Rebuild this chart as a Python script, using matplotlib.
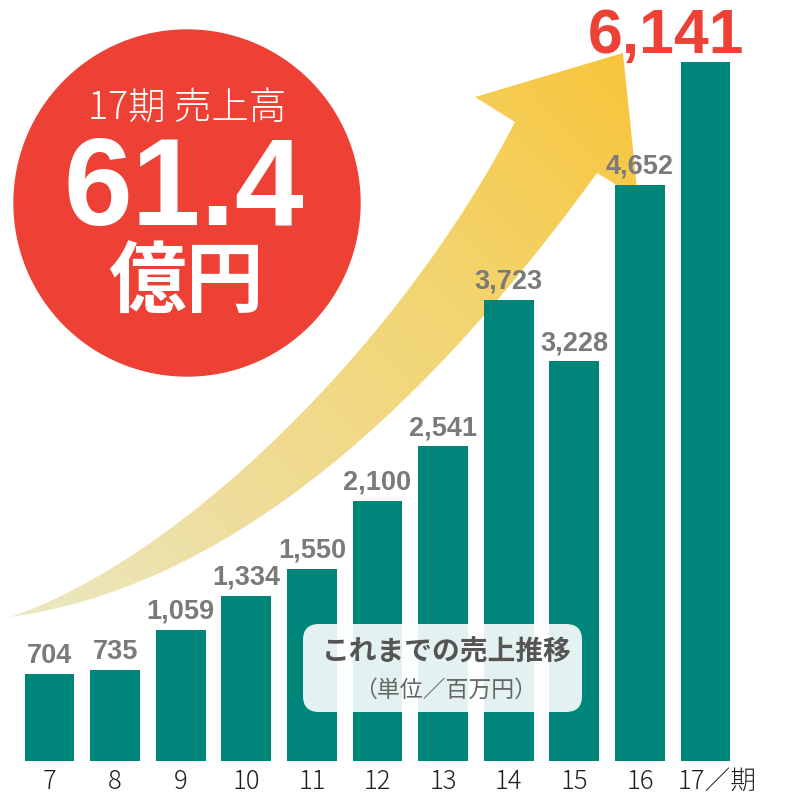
import numpy as np
import matplotlib
matplotlib.use("Agg")
import matplotlib.pyplot as plt
from matplotlib.path import Path
from matplotlib.patches import PathPatch, Circle, FancyBboxPatch
from matplotlib.colors import LinearSegmentedColormap

plt.rcParams['font.family'] = ['Noto Sans CJK JP', 'DejaVu Sans']

# ---- data ----
periods = ["7", "8", "9", "10", "11", "12", "13", "14", "15", "16", "17"]
sales = [704, 735, 1059, 1334, 1550, 2100, 2541, 3723, 3228, 4652, 6141]   # 百万円
period_unit = "／期"

badge_title = "17期 売上高"
badge_value = "61.4"
badge_unit = "億円"
note_title = "これまでの売上推移"
note_unit = "（単位／百万円）"

TEAL = "#00857a"
RED = "#ee4136"
GREY = "#7a7a7a"

W, H = 803, 794
base_px, top_px = 760.7, 62.0      # baseline and clipped top of the plot area
px_per_bar = 65.6
first_center = 49.5
px_per_unit = 0.1238

fig = plt.figure(figsize=(W / 100, H / 100), dpi=100)

#----------------------------------------------------------------------------------------------------------#
# background: growth arrow with gradient

bg = fig.add_axes([0, 0, 1, 1], zorder=0)
bg.set_xlim(0, W); bg.set_ylim(H, 0); bg.axis("off")

verts = [(10, 617),
         (180, 560), (400, 345), (515, 122),     # upper edge
         (475, 97), (623, 53), (638, 198), (597, 173),
         (490, 320), (280, 580), (10, 617),      # lower edge
         (10, 617)]
codes = [Path.MOVETO,
         Path.CURVE4, Path.CURVE4, Path.CURVE4,
         Path.LINETO, Path.LINETO, Path.LINETO, Path.LINETO,
         Path.CURVE4, Path.CURVE4, Path.CURVE4,
         Path.CLOSEPOLY]
arrow = PathPatch(Path(verts, codes), facecolor="none", edgecolor="none")
bg.add_patch(arrow)

cmap = LinearSegmentedColormap.from_list(
    "arrow", ["#ebe8c4", "#efdc95", "#f3d46e", "#f8c53c"])
gx, gy = np.meshgrid(np.arange(W), np.arange(H))
d = np.array([613.0, -564.0])
t = ((gx - 10) * d[0] + (gy - 617) * d[1]) / (d @ d)
img = bg.imshow(np.clip(t, 0, 1), cmap=cmap, extent=(0, W, H, 0), origin="upper",
                vmin=0, vmax=1, interpolation="bilinear")
img.set_clip_path(arrow)

#----------------------------------------------------------------------------------------------------------#
# bars

ax = fig.add_axes([0, (H - base_px) / H, 1, (base_px - top_px) / H], zorder=1)
ax.patch.set_alpha(0)
ax.set_xlim(-first_center / px_per_bar, (W - first_center) / px_per_bar)
ytop = (base_px - top_px) / px_per_unit
ax.set_ylim(0, ytop)
for s in ax.spines.values():
    s.set_visible(False)
ax.set_xticks([]); ax.set_yticks([])

x = np.arange(len(sales))
ax.bar(x, sales, width=0.76, color=TEAL, zorder=2)

for i, v in enumerate(sales):
    if i == len(sales) - 1:
        ax.annotate(f"{v:,}", (i, min(v, ytop)), xytext=(-40, 9), textcoords="offset pixels",
                    ha="center", va="baseline", fontsize=45, fontweight="bold",
                    family="Liberation Sans", color=RED, annotation_clip=False, zorder=5)
    else:
        ax.annotate(f"{v:,}", (i, v), xytext=(0, 11), textcoords="offset pixels",
                    ha="center", va="baseline", fontsize=19.5, fontweight="bold",
                    family="Liberation Sans", color=GREY, annotation_clip=False, zorder=5)

for i, p in enumerate(periods):
    label = p + period_unit if i == len(periods) - 1 else p
    dx = 12 if i == len(periods) - 1 else 0
    ax.annotate(label, (i, 0), xytext=(dx, -28), textcoords="offset pixels",
                ha="center", va="baseline", fontsize=18.5, fontweight="light",
                color="#231f20", annotation_clip=False)

#----------------------------------------------------------------------------------------------------------#
# overlay: badge and note box

ov = fig.add_axes([0, 0, 1, 1], zorder=3)
ov.set_xlim(0, W); ov.set_ylim(H, 0); ov.axis("off")
ov.patch.set_alpha(0)

ov.add_patch(Circle((187, 203), 173, color=RED))
ov.text(187, 109, badge_title, ha="center", va="center", fontsize=27,
        fontweight="light", color="white")
ov.text(184, 193, badge_value, ha="center", va="center", fontsize=89,
        fontweight="bold", family="Liberation Sans", color="white")
ov.text(186, 283, badge_unit, ha="center", va="center", fontsize=56,
        fontweight="bold", color="white")

ov.add_patch(FancyBboxPatch((303, 624), 279, 88, boxstyle="round,pad=0,rounding_size=16",
                            facecolor="#fdffff", edgecolor="none", alpha=0.9))
ov.text(447, 653, note_title, ha="center", va="center", fontsize=20,
        fontweight="bold", color="#555555")
ov.text(446, 690, note_unit, ha="center", va="center", fontsize=16.5,
        color="#666666")

fig.savefig("out.png", dpi=100)
